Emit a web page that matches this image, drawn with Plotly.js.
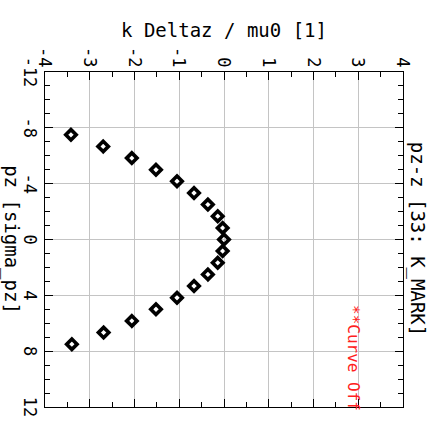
<!DOCTYPE html>
<html>
<head>
<meta charset="utf-8">
<script src="https://cdn.plot.ly/plotly-3.0.1.min.js"></script>
<style>
  html, body { margin:0; padding:0; background:#fff; overflow:hidden; width:435px; height:427px; }
  #wrap { position:absolute; left:0; top:0; width:427px; height:435px;
          transform-origin:0 0; transform: translateX(435px) rotate(90deg); }
</style>
</head>
<body>
<div id="wrap"></div>
<script>
// Data
const pzValues = [-7.5, -6.67, -5.83, -5.0, -4.17, -3.33, -2.5, -1.67, -0.83, 0, 0.83, 1.67, 2.5, 3.33, 4.17, 5.0, 5.83, 6.67, 7.5];
const kValues  = [-3.42, -2.70, -2.06, -1.52, -1.05, -0.67, -0.36, -0.14, -0.03, 0, -0.03, -0.14, -0.36, -0.67, -1.05, -1.52, -2.06, -2.69, -3.40];
const pzTicks = [-12, -8, -4, 0, 4, 8, 12];
const kTicks  = [-4, -3, -2, -1, 0, 1, 2, 3, 4];

const chartTitle = 'pz-z [33: K_MARK]';
const xTitle = 'pz [sigma_pz]';
const yTitle = 'k Deltaz / mu0 [1]';
const noteText = '**Curve Off';

const FONT = 'DejaVu Sans Mono';

const trace = {
  x: pzValues, y: kValues, type: 'scatter', mode: 'markers',
  marker: { symbol: 'diamond-open', size: 8, color: '#000', line: { color: '#000', width: 3.6 } },
  cliponaxis: false, hoverinfo: 'skip'
};

const axisCommon = {
  showline: true, linecolor: '#000', linewidth: 1, mirror: 'allticks',
  ticks: 'inside', ticklen: 8, tickcolor: '#000', tickwidth: 1,
  showgrid: true, gridcolor: '#c4c4c4', gridwidth: 1, zeroline: false,
  tickfont: { family: FONT, size: 17, color: '#000' },
};

const layout = {
  width: 427, height: 435,
  margin: { l: 72, r: 20, t: 32, b: 45 },
  paper_bgcolor: '#fff', plot_bgcolor: '#fff',
  showlegend: false,
  font: { family: FONT, color: '#000' },
  title: { text: chartTitle, font: { family: FONT, size: 19, color: '#000' },
           x: 0.4985, xref: 'paper', xanchor: 'center', y: 1 - 17/435, yref: 'container', yanchor: 'middle' },
  xaxis: Object.assign({}, axisCommon, {
    range: [-12, 12], tickmode: 'array', tickvals: pzTicks, ticktext: pzTicks.map(String),
    minor: { dtick: 1, ticks: 'inside', ticklen: 5, tickcolor: '#000', showgrid: false },
    title: { text: xTitle, font: { family: FONT, size: 19, color: '#000' }, standoff: 3 },
  }),
  yaxis: Object.assign({}, axisCommon, {
    range: [-4, 4], tickmode: 'array', tickvals: kTicks, ticktext: kTicks.map(String),
    minor: { dtick: 0.5, ticks: 'inside', ticklen: 5, tickcolor: '#000', showgrid: false },
    title: { text: yTitle, font: { family: FONT, size: 19, color: '#000' }, standoff: 4 },
  }),
  annotations: [{
    text: noteText, showarrow: false, xref: 'paper', yref: 'paper',
    x: 0.69, xanchor: 'left', y: 0.862, yanchor: 'middle',
    font: { family: FONT, size: 16, color: '#ff2020' }
  }]
};

Plotly.newPlot('wrap', [trace], layout, { staticPlot: true, displayModeBar: false });
</script>
</body>
</html>
